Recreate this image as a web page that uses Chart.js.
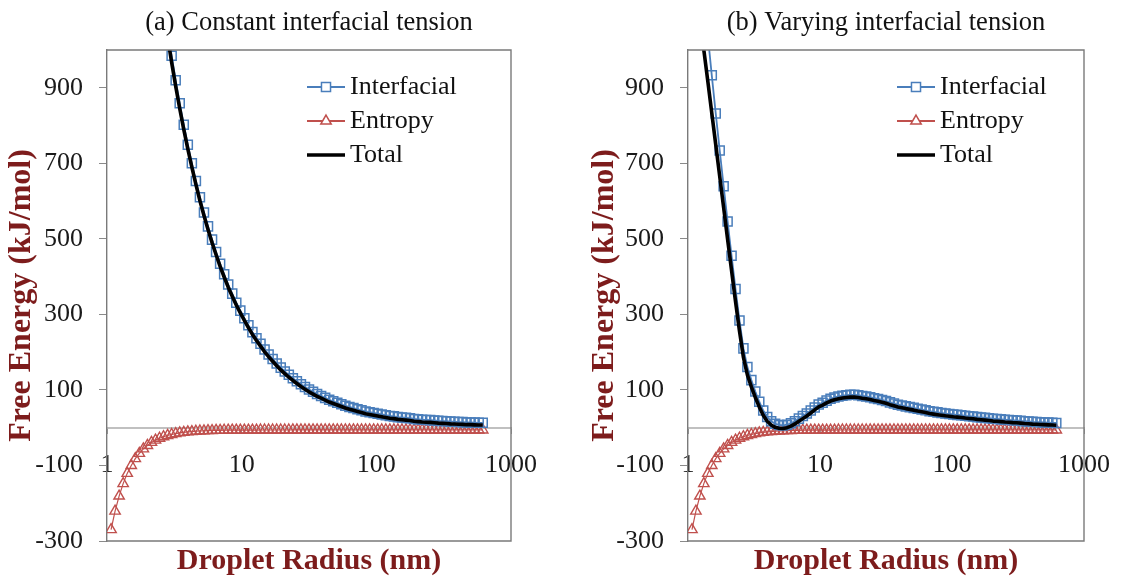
<!DOCTYPE html>
<html>
<head>
<meta charset="utf-8">
<script src="https://cdn.jsdelivr.net/npm/chart.js@4.4.1/dist/chart.umd.min.js"></script>
<style>
  html, body { margin: 0; padding: 0; background: #ffffff; overflow: hidden; }
  body { width: 1127px; height: 580px; position: relative; }
  canvas { position: absolute; top: 0; }
</style>
</head>
<body>
<canvas id="chartA" width="560" height="580" style="left:0px"></canvas>
<canvas id="chartB" width="544" height="580" style="left:583px"></canvas>
<script>
// ---------------- data ----------------
const radius = [
  1.072, 1.148, 1.230, 1.318, 1.413, 1.514, 1.622, 1.738, 1.862, 1.995,
  2.138, 2.291, 2.455, 2.630, 2.818, 3.020, 3.236, 3.467, 3.715, 3.981,
  4.266, 4.571, 4.898, 5.248, 5.623, 6.026, 6.457, 6.918, 7.413, 7.943,
  8.511, 9.120, 9.772, 10.47, 11.22, 12.02, 12.88, 13.80, 14.79, 15.85,
  16.98, 18.20, 19.50, 20.89, 22.39, 23.99, 25.70, 27.54, 29.51, 31.62,
  33.88, 36.31, 38.90, 41.69, 44.67, 47.86, 51.29, 54.95, 58.88, 63.10,
  67.61, 72.44, 77.62, 83.18, 89.13, 95.50, 102.3, 109.6, 117.5, 125.9,
  134.9, 144.5, 154.9, 166.0, 177.8, 190.5, 204.2, 218.8, 234.4, 251.2,
  269.2, 288.4, 309.0, 331.1, 354.8, 380.2, 407.4, 436.5, 467.7, 501.2,
  537.0, 575.4, 616.6
];

const entropy = [
  -270, -221, -181, -148, -121, -100, -82, -68, -56, -47,
  -39, -33, -28, -24, -20.5, -18, -15.6, -13.8, -12.3, -11.2,
  -10.2, -9.4, -8.8, -8.2, -7.8, -7.5, -7.2, -7.0, -6.8, -6.7,
  -6.5, -6.4, -6.4, -6.3, -6.2, -6.2, -6.2, -6.1, -6.1, -6.1,
  -6.1, -6.1, -6.1, -6.1, -6.1, -6.0, -6.0, -6.0, -6.0, -6.0,
  -6.0, -6.0, -6.0, -6.0, -6.0, -6.0, -6.0, -6.0, -6.0, -6.0,
  -6.0, -6.0, -6.0, -6.0, -6.0, -6.0, -6.0, -6.0, -6.0, -6.0,
  -6.0, -6.0, -6.0, -6.0, -6.0, -6.0, -6.0, -6.0, -6.0, -6.0,
  -6.0, -6.0, -6.0, -6.0, -6.0, -6.0, -6.0, -6.0, -6.0, -6.0,
  -6.0, -6.0, -6.0
];

// (a) constant interfacial tension
const interfacialConst = [
  2761, 2577, 2406, 2246, 2096, 1957, 1827, 1706, 1592, 1486,
  1388, 1296, 1210, 1130, 1055, 985, 920, 859, 802, 749,
  700, 653, 610, 570, 533, 498, 465, 434, 406, 379,
  355, 331, 310, 290, 271, 253, 237, 222, 207, 194,
  182, 170, 159, 149, 140, 131, 123, 115, 108, 101,
  95, 89, 84, 79, 74, 70, 66, 62, 58, 55,
  52, 49, 46, 43, 41, 39, 37, 35, 33, 31,
  30, 28, 27, 26, 25, 23, 22, 21, 20.6, 20,
  19, 18, 17.5, 17, 16, 15.8, 15, 14.8, 14, 14,
  13.5, 13, 13
];
const totalConst = [
  2491, 2356, 2225, 2098, 1975, 1857, 1745, 1638, 1536, 1439,
  1349, 1263, 1182, 1106, 1035, 967, 904, 845, 790, 738,
  690, 644, 601, 562, 525, 490, 458, 427, 399, 372,
  348, 325, 304, 284, 265, 247, 231, 216, 201, 188,
  176, 164, 153, 143, 134, 125, 117, 109, 102, 95,
  89, 83, 78, 73, 68, 64, 60, 56, 52, 49,
  46, 43, 40, 37, 35, 33, 31, 29, 27, 25,
  24, 22, 21, 20, 19, 17, 16, 15, 14.6, 14,
  13, 12, 11.5, 11, 10, 9.8, 9, 8.8, 8, 8,
  7.5, 7, 7
];

// (b) varying interfacial tension
const interfacialVary = [
  1520, 1388, 1264, 1148, 1038, 933, 832, 734, 639, 546,
  455, 367, 284, 210, 160.5, 126, 95.6, 68.8, 45.3, 28.2,
  17.2, 10.4, 7.3, 6.2, 7.8, 11.5, 17.2, 24, 30.8, 37.7,
  45.5, 53.4, 61.4, 66.3, 71.7, 76.7, 80.2, 82.6, 84.6, 86.1,
  87.1, 87.1, 86.1, 84.1, 82.6, 80.5, 78, 76, 73.5, 70.5,
  67, 64, 61, 59, 56.5, 54.5, 52.5, 50, 48, 46,
  43.5, 42, 40.5, 39, 37.5, 36.5, 35, 34, 33, 31.5,
  30.5, 29.5, 28, 27, 26, 25, 23.5, 23, 22, 21,
  20.5, 19.5, 19, 18, 17, 16.5, 15.5, 15, 14.5, 14,
  13.5, 13, 12.5
];
const totalVary = [
  1250, 1167, 1083, 1000, 917, 833, 750, 666, 583, 499,
  416, 334, 256, 186, 140, 108, 80, 55, 33, 17,
  7, 1, -1.5, -2, 0, 4, 10, 17, 24, 31,
  39, 47, 55, 60, 65.5, 70.5, 74, 76.5, 78.5, 80,
  81, 81, 80, 78, 76.5, 74.5, 72, 70, 67.5, 64.5,
  61, 58, 55, 53, 50.5, 48.5, 46.5, 44, 42, 40,
  37.5, 36, 34.5, 33, 31.5, 30.5, 29, 28, 27, 25.5,
  24.5, 23.5, 22, 21, 20, 19, 17.5, 17, 16, 15,
  14.5, 13.5, 13, 12, 11, 10.5, 9.5, 9, 8.5, 8,
  7.5, 7, 6.5
];

const yTickValues = [-300, -100, 100, 300, 500, 700, 900];
const xTickValues = [1, 10, 100, 1000];
const legendOrder = ['Interfacial', 'Entropy', 'Total'];

// ---------------- styling ----------------
const SERIF = '"Liberation Serif", "Times New Roman", Times, serif';
const BLUE = '#4a7ebb';
const RED = '#c0504d';
const MAROON = '#7d1c1c';
const AXIS_GRAY = '#7a7a7a';

Chart.defaults.font.family = SERIF;
Chart.defaults.color = '#1a1a1a';

function pts(values) {
  return radius.map((r, i) => ({ x: r, y: values[i] }));
}

const framePlugin = {
  id: 'plotFrame',
  afterDraw(chart) {
    const { ctx, chartArea: a } = chart;
    ctx.save();
    ctx.strokeStyle = AXIS_GRAY;
    ctx.lineWidth = 1.4;
    ctx.beginPath();
    ctx.moveTo(a.left, a.top);
    ctx.lineTo(a.right, a.top);
    ctx.lineTo(a.right, a.bottom);
    ctx.lineTo(a.left, a.bottom);
    ctx.stroke();
    ctx.restore();
  }
};

const legendPlugin = {
  id: 'innerLegend',
  afterDraw(chart, args, opts) {
    const { ctx } = chart;
    ctx.save();
    legendOrder.forEach((label, i) => {
      const ds = chart.data.datasets.find(d => d.label === label);
      if (!ds) return;
      const y = opts.y + i * opts.gap;
      ctx.strokeStyle = ds.borderColor;
      ctx.lineWidth = label === 'Total' ? 3.5 : 1.8;
      ctx.beginPath();
      ctx.moveTo(opts.x, y);
      ctx.lineTo(opts.x + opts.len, y);
      ctx.stroke();
      if (ds.pointRadius > 0) {
        ctx.fillStyle = '#ffffff';
        ctx.strokeStyle = ds.pointBorderColor;
        ctx.lineWidth = 1.5;
        Chart.helpers.drawPoint(ctx, {
          pointStyle: ds.pointStyle, radius: ds.pointRadius,
          borderWidth: 1.5, rotation: 0
        }, opts.x + opts.len / 2, y);
      }
      ctx.fillStyle = '#111111';
      ctx.font = '26px ' + SERIF;
      ctx.textBaseline = 'middle';
      ctx.textAlign = 'left';
      ctx.fillText(label, opts.x + opts.len + 5, y);
    });
    ctx.restore();
  }
};

function makeChart(id, cfg) {
  return new Chart(document.getElementById(id), {
    type: 'line',
    data: {
      datasets: [
        {
          label: 'Total', data: pts(cfg.total),
          borderColor: '#000000', borderWidth: 3.6, borderJoinStyle: 'round',
          pointRadius: 0, pointHoverRadius: 0, tension: 0
        },
        {
          label: 'Interfacial', data: pts(cfg.interfacial),
          borderColor: BLUE, borderWidth: 1.8,
          pointStyle: 'rect', pointRadius: 6.4, pointBorderWidth: 1.5,
          pointBorderColor: BLUE, pointBackgroundColor: 'rgba(255,255,255,0)',
          pointHoverRadius: 6.4, tension: 0
        },
        {
          label: 'Entropy', data: pts(entropy),
          borderColor: RED, borderWidth: 1.2,
          pointStyle: 'triangle', pointRadius: 6, pointBorderWidth: 1.4,
          pointBorderColor: RED, pointBackgroundColor: 'rgba(255,255,255,0)',
          pointHoverRadius: 6, tension: 0
        }
      ]
    },
    options: {
      responsive: false,
      animation: false,
      events: [],
      layout: { padding: { left: 0, top: 0, right: cfg.padRight, bottom: 0 } },
      scales: {
        x: {
          type: 'logarithmic', min: 1, max: 1000,
          position: { y: 0 },
          afterBuildTicks: s => { s.ticks = xTickValues.map(v => ({ value: v })); },
          ticks: {
            autoSkip: false, maxRotation: 0, padding: 17,
            font: { size: 26, family: SERIF }, color: '#1a1a1a',
            callback: v => String(v)
          },
          grid: { drawOnChartArea: false, drawTicks: true, tickLength: 5, color: '#9a9a9a' },
          border: { display: true, color: '#c0c0c0', width: 2 }
        },
        y: {
          type: 'linear', min: -300, max: 1000,
          afterBuildTicks: s => { s.ticks = yTickValues.map(v => ({ value: v })); },
          afterFit: s => { s.width = cfg.yWidth; },
          ticks: { padding: 16, font: { size: 26, family: SERIF }, color: '#1a1a1a' },
          grid: { drawOnChartArea: false, drawTicks: true, tickLength: 8, color: '#8a8a8a' },
          border: { display: true, color: AXIS_GRAY, width: 1.4 },
          title: {
            display: true, text: 'Free Energy (kJ/mol)', color: MAROON,
            font: { size: 32, weight: 'bold', family: SERIF },
            padding: { top: 3, bottom: 0 }
          }
        }
      },
      plugins: {
        legend: { display: false },
        tooltip: { enabled: false },
        title: {
          display: true, text: cfg.title, fullSize: false,
          color: '#111111', font: { size: 26.5, weight: 'normal', family: SERIF },
          padding: { top: 7, bottom: 11.2 }
        },
        subtitle: {
          display: true, text: 'Droplet Radius (nm)', position: 'bottom', fullSize: false,
          color: MAROON, font: { size: 30, weight: 'bold', family: SERIF },
          padding: { top: 2, bottom: 1 }
        },
        innerLegend: { x: cfg.legendX, y: 87, gap: 34, len: 38 }
      }
    },
    plugins: [framePlugin, legendPlugin]
  });
}

makeChart('chartA', {
  title: '(a) Constant interfacial tension',
  interfacial: interfacialConst, total: totalConst,
  yWidth: 107, padRight: 49, legendX: 307
});
makeChart('chartB', {
  title: '(b) Varying interfacial tension',
  interfacial: interfacialVary, total: totalVary,
  yWidth: 105, padRight: 39, legendX: 314
});
</script>
</body>
</html>
